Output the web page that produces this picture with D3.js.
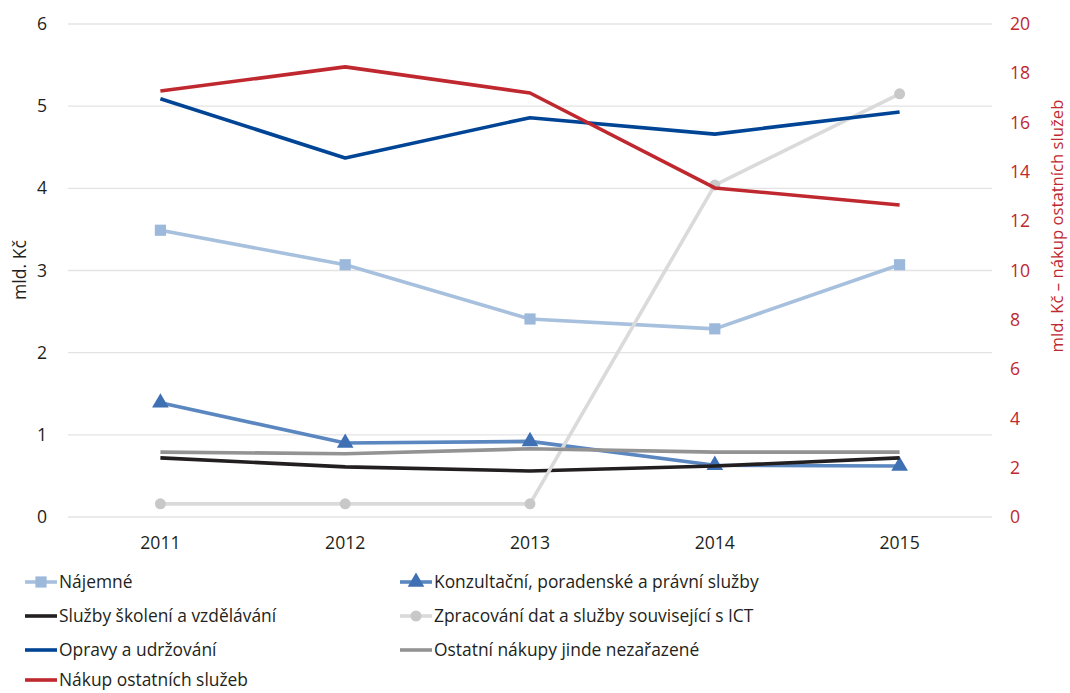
<!DOCTYPE html>
<html><head><meta charset="utf-8">
<script src="https://cdn.jsdelivr.net/npm/d3@7"></script>
<style>body{margin:0;background:#fff}svg{display:block}text{font-family:"Open Sans","Noto Sans",sans-serif}</style>
</head><body><svg id="c" width="1070" height="693"></svg>
<script>
const years = ["2011","2012","2013","2014","2015"];
const leftTicks = [0,1,2,3,4,5,6];
const rightTicks = [0,2,4,6,8,10,12,14,16,18,20];
const najemne = [3.49,3.07,2.41,2.29,3.07];
const konzultacni = [1.39,0.90,0.92,0.63,0.62];
const skoleni = [0.72,0.61,0.56,0.62,0.72];
const ict = [0.16,0.16,0.16,4.04,5.15];
const opravy = [5.09,4.37,4.86,4.66,4.93];
const ostatni = [0.79,0.77,0.83,0.79,0.79];
const nakup = [17.28,18.26,17.2,13.35,12.66];

const series = [
  {name:"Nájemné", vals:najemne, color:"#a7c0dd", marker:"square", mcolor:"#9cb8da", axis:"L"},
  {name:"Konzultační, poradenské a právní služby", vals:konzultacni, color:"#5b87c0", marker:"triangle", mcolor:"#3f70b3", axis:"L"},
  {name:"Služby školení a vzdělávání", vals:skoleni, color:"#231f20", marker:null, axis:"L"},
  {name:"Zpracování dat a služby související s ICT", vals:ict, color:"#dadada", marker:"circle", mcolor:"#c8c8c8", axis:"L"},
  {name:"Opravy a udržování", vals:opravy, color:"#004595", marker:null, axis:"L"},
  {name:"Ostatní nákupy jinde nezařazené", vals:ostatni, color:"#939393", marker:null, axis:"L"},
  {name:"Nákup ostatních služeb", vals:nakup, color:"#c0282f", marker:null, axis:"R"}
];

const FS = 17.6;
const svg = d3.select("#c");
const x = d3.scaleBand().domain(years).range([68,992]);
const yL = d3.scaleLinear().domain([0,6]).range([517,24]);
const yR = d3.scaleLinear().domain([0,20]).range([517,24]);
const cx = d => x(d)+x.bandwidth()/2;

svg.append("g").selectAll("line").data(leftTicks).join("line")
  .attr("x1",68).attr("x2",992).attr("y1",d=>yL(d)).attr("y2",d=>yL(d))
  .attr("stroke","#e3e3e3").attr("stroke-width",1.3);

const gL = svg.append("g").attr("transform","translate(68,0)")
  .call(d3.axisLeft(yL).tickValues(leftTicks).tickFormat(d3.format("d")).tickSize(0).tickPadding(21));
gL.select(".domain").remove();
gL.selectAll("text").attr("font-size",FS).attr("fill","#231f20");

const gR = svg.append("g").attr("transform","translate(992,0)")
  .call(d3.axisRight(yR).tickValues(rightTicks).tickFormat(d3.format("d")).tickSize(0).tickPadding(18));
gR.select(".domain").remove();
gR.selectAll("text").attr("font-size",FS).attr("fill","#c0282f");

const gX = svg.append("g").attr("transform","translate(0,517)")
  .call(d3.axisBottom(x).tickSize(0).tickPadding(20));
gX.select(".domain").remove();
gX.selectAll("text").attr("font-size",FS).attr("fill","#231f20");

svg.append("text").attr("transform","translate(26,270) rotate(-90)")
  .attr("text-anchor","middle").attr("font-size",FS).attr("fill","#231f20").text("mld. Kč");
svg.append("text").attr("transform","translate(1063,226) rotate(-90)")
  .attr("text-anchor","middle").attr("font-size",16.7).attr("fill","#c0282f").text("mld. Kč – nákup ostatních služeb");

const sym = {square:d3.symbolSquare, triangle:d3.symbolTriangle, circle:d3.symbolCircle};
const size = {square:125, triangle:120, circle:95};

series.forEach(s=>{
  const y = s.axis==="L"?yL:yR;
  const line = d3.line().x((d,i)=>cx(years[i])).y(d=>y(d));
  svg.append("path").datum(s.vals).attr("d",line).attr("fill","none")
    .attr("stroke",s.color).attr("stroke-width",3.6).attr("stroke-linejoin","round");
  if(s.marker){
    svg.append("g").selectAll("path").data(s.vals).join("path")
      .attr("d",d3.symbol().type(sym[s.marker]).size(size[s.marker]))
      .attr("transform",(d,i)=>`translate(${cx(years[i])},${y(d)})`)
      .attr("fill",s.mcolor);
  }
});

const legPos = [[25,582],[400,582],[25,616],[400,616],[25,650],[400,650],[25,680]];
series.forEach((s,i)=>{
  const [lx,ly] = legPos[i];
  const g = svg.append("g");
  g.append("line").attr("x1",lx).attr("x2",lx+32).attr("y1",ly).attr("y2",ly)
    .attr("stroke",s.color).attr("stroke-width",3.6);
  if(s.marker){
    g.append("path").attr("d",d3.symbol().type(sym[s.marker]).size(size[s.marker]))
      .attr("transform",`translate(${lx+16},${ly})`).attr("fill",s.mcolor);
  }
  g.append("text").attr("x",lx+34).attr("y",ly).attr("dy","0.35em")
    .attr("font-size",17.4).attr("fill","#231f20").text(s.name);
});
</script></body></html>
